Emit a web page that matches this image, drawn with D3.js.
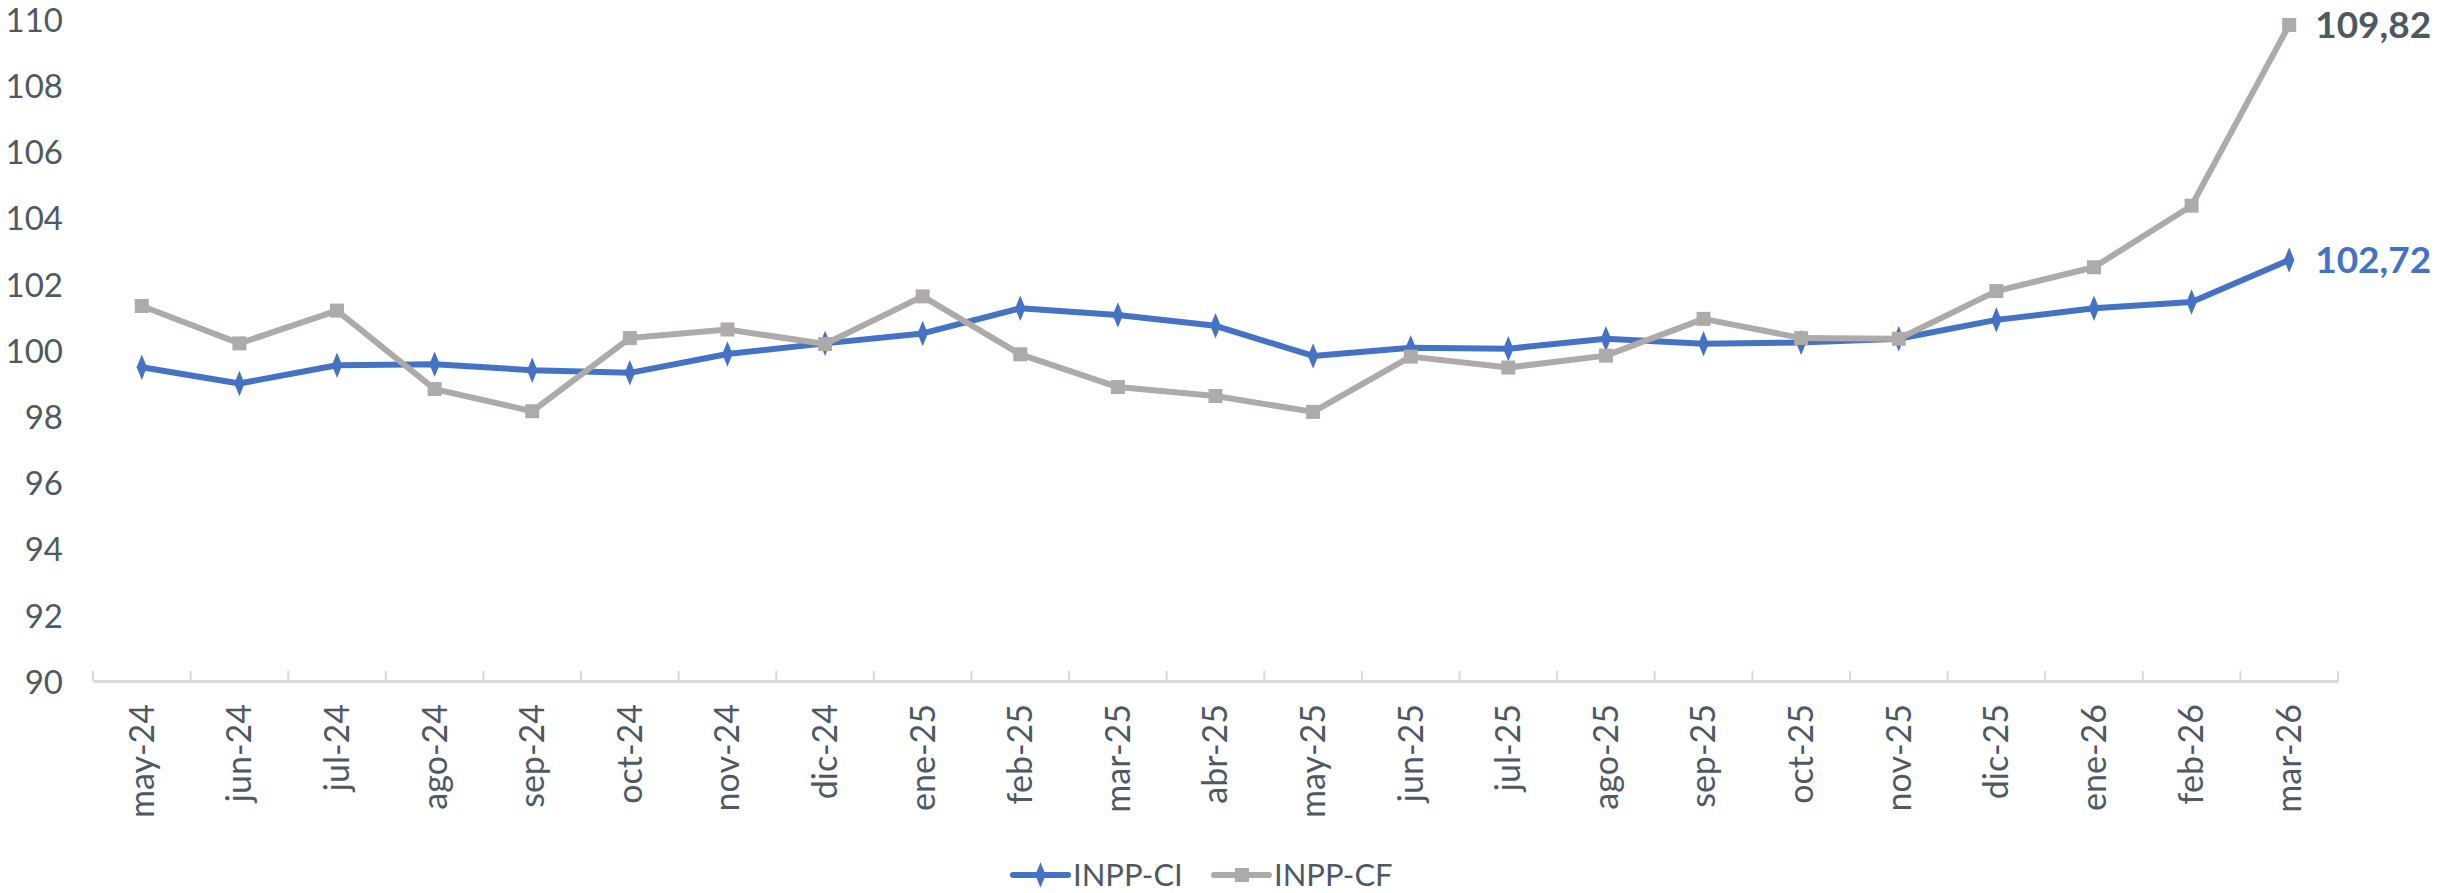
<!DOCTYPE html>
<html>
<head>
<meta charset="utf-8">
<script src="https://cdn.jsdelivr.net/npm/d3@7"></script>
<style>
  body { margin: 0; background: #fff; }
  text { font-family: Lato, "Open Sans", sans-serif; fill: #4e5964; }
</style>
</head>
<body>
<div></div>
<script>
const width = 2453;
const height = 893;

const months = [
  "may-24", "jun-24", "jul-24", "ago-24", "sep-24", "oct-24", "nov-24", "dic-24",
  "ene-25", "feb-25", "mar-25", "abr-25", "may-25", "jun-25", "jul-25", "ago-25",
  "sep-25", "oct-25", "nov-25", "dic-25", "ene-26", "feb-26", "mar-26",
];

const inppCI = [
  99.48, 98.99, 99.54, 99.57, 99.39, 99.31, 99.88, 100.2,
  100.5, 101.26, 101.06, 100.73, 99.82, 100.07, 100.04, 100.34,
  100.19, 100.23, 100.34, 100.91, 101.26, 101.45, 102.72,
];

const inppCF = [
  101.33, 100.2, 101.19, 98.82, 98.15, 100.36, 100.62, 100.18,
  101.62, 99.87, 98.88, 98.61, 98.13, 99.8, 99.47, 99.83,
  100.94, 100.36, 100.34, 101.78, 102.5, 104.36, 109.82,
];

const yTicks = [90, 92, 94, 96, 98, 100, 102, 104, 106, 108, 110];

const series = [
  { name: "INPP-CI", values: inppCI, color: "#4472c4", width: 6, marker: "diamond", labelColor: "#4472c4" },
  { name: "INPP-CF", values: inppCF, color: "#aeaaa9", width: 6, marker: "square", labelColor: "#4e5964" },
];

const svg = d3
  .select("div")
  .append("svg")
  .attr("width", width)
  .attr("height", height);

const xScale = d3.scaleBand().domain(months).range([93, 2338]);

const yScale = d3.scaleLinear().domain([90, 110]).range([681, 19]);

// y axis: only labels, no line
const yAxis = d3.axisLeft(yScale).tickValues(yTicks).tickSize(0).tickPadding(0);

svg
  .append("g")
  .attr("transform", "translate(63,0)")
  .call(yAxis)
  .call((g) => g.select(".domain").remove())
  .selectAll("text")
  .style("font-size", "33px")
  .attr("dy", "0.37em");

// x axis: tick marks go up into the plot at the band edges
const xAxis = d3.axisBottom(xScale).tickSize(0).tickPadding(0);

const xg = svg
  .append("g")
  .attr("transform", "translate(0,681)")
  .call(xAxis);

xg.select(".domain").attr("stroke", "#d9d9d9").attr("stroke-width", 3);

xg.selectAll("text")
  .style("font-size", "34px")
  .attr("text-anchor", "end")
  .attr("transform", "rotate(-90)")
  .attr("x", -23)
  .attr("y", 0)
  .attr("dy", "0.35em");

const edges = months.map((m) => xScale(m)).concat([xScale.range()[1]]);

svg
  .append("g")
  .selectAll("line")
  .data(edges)
  .enter()
  .append("line")
  .attr("x1", (d) => d)
  .attr("x2", (d) => d)
  .attr("y1", 681)
  .attr("y2", 671)
  .attr("stroke", "#d9d9d9")
  .attr("stroke-width", 2);

const cx = (i) => xScale(months[i]) + xScale.bandwidth() / 2;

const line = d3
  .line()
  .x((d, i) => cx(i))
  .y((d) => yScale(d));

const diamond = d3.symbol().type(d3.symbolDiamond).size(130);

series.forEach((s) => {
  svg
    .append("path")
    .datum(s.values)
    .attr("d", line)
    .attr("fill", "none")
    .attr("stroke", s.color)
    .attr("stroke-width", s.width)
    .attr("stroke-linejoin", "round");
});

// markers drawn after both lines
series.forEach((s) => {
  const g = svg.append("g");
  if (s.marker === "square") {
    g.selectAll("rect")
      .data(s.values)
      .enter()
      .append("rect")
      .attr("x", (d, i) => cx(i) - 7)
      .attr("y", (d) => yScale(d) - 7)
      .attr("width", 14)
      .attr("height", 14)
      .attr("fill", s.color);
  } else {
    g.selectAll("path")
      .data(s.values)
      .enter()
      .append("path")
      .attr("d", diamond)
      .attr("transform", (d, i) => "translate(" + cx(i) + "," + yScale(d) + ") scale(0.85,1.2)")
      .attr("fill", s.color);
  }

  // value label at the last point
  const last = s.values.length - 1;
  svg
    .append("text")
    .attr("x", cx(last) + 26)
    .attr("y", yScale(s.values[last]))
    .attr("dy", "0.36em")
    .style("font-size", "37px")
    .style("font-weight", "bold")
    .style("fill", s.labelColor)
    .text(d3.format(".2f")(s.values[last]).replace(".", ","));
});

// legend
const legend = svg.append("g").attr("transform", "translate(0,875)");

const legendX = [1013, 1214];

series.forEach((s, i) => {
  const lg = legend.append("g").attr("transform", "translate(" + legendX[i] + ",0)");
  lg.append("line")
    .attr("x1", 0)
    .attr("x2", 55)
    .attr("y1", 0)
    .attr("y2", 0)
    .attr("stroke", s.color)
    .attr("stroke-width", s.width)
    .attr("stroke-linecap", "round");
  if (s.marker === "square") {
    lg.append("rect")
      .attr("x", 21)
      .attr("y", -7)
      .attr("width", 14)
      .attr("height", 14)
      .attr("fill", s.color);
  } else {
    lg.append("path")
      .attr("d", diamond)
      .attr("transform", "translate(27.5,0) scale(0.85,1.2)")
      .attr("fill", s.color);
  }
  lg.append("text")
    .attr("x", 60)
    .attr("y", 0)
    .attr("dy", "0.36em")
    .style("font-size", "31px")
    .text(s.name);
});
</script>
</body>
</html>
